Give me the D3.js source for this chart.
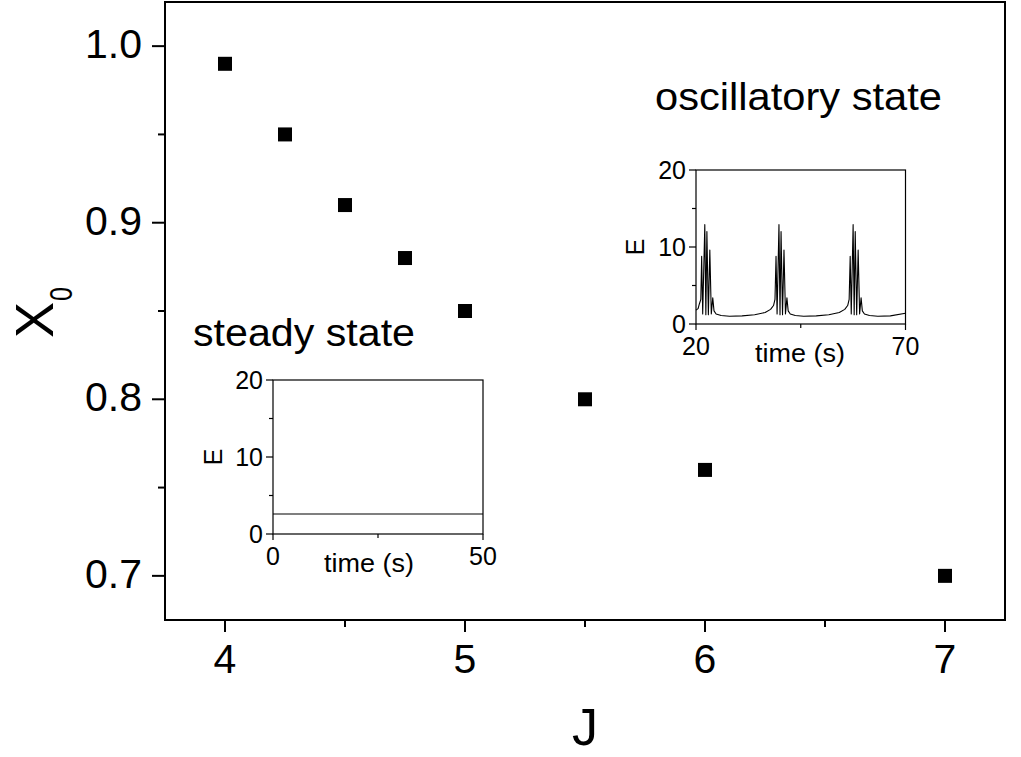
<!DOCTYPE html>
<html>
<head>
<meta charset="utf-8">
<script src="https://cdn.jsdelivr.net/npm/d3@7"></script>
<style>
  body { margin: 0; background: #fff; }
  svg { display: block; font-family: "Liberation Sans", Arial, sans-serif; }
</style>
</head>
<body>
<svg id="chart" width="1021" height="757"></svg>
<script>
// --- data ---
const jValues = [4, 4.25, 4.5, 4.75, 5, 5.5, 6, 7];
const x0Values = [0.99, 0.95, 0.91, 0.88, 0.85, 0.80, 0.76, 0.70];
const mainXTicks = [4, 5, 6, 7];
const mainXMinor = [4.5, 5.5, 6.5];
const mainYTicks = [0.7, 0.8, 0.9, 1.0];
const mainYMinor = [0.75, 0.85, 0.95];

// oscillatory inset: E(t)
const oscTime = [20.0, 20.5, 20.8, 21.15, 21.35, 21.6, 22.1, 22.35, 22.6, 22.95, 23.3, 23.65, 24.0, 24.3, 24.8, 26, 28, 31, 34, 36.5,
  37.8, 38.5, 38.85, 39.1, 39.35, 39.8, 40.05, 40.3, 40.65, 41.0, 41.35, 41.7, 42.0, 42.5, 43.7, 45.7, 48.7, 51.7, 54.2,
  55.5, 56.2, 56.55, 56.8, 57.05, 57.5, 57.75, 58.0, 58.35, 58.7, 59.05, 59.4, 59.7, 60.2, 61.4, 63.4, 66.4, 70];
const oscE = [1.8, 2.0, 2.6, 3.2, 8.8, 1.3, 12.9, 1.2, 12.0, 1.2, 9.6, 1.3, 3.4, 1.7, 1.3, 1.1, 1.0, 1.05, 1.2, 1.5,
  1.9, 2.4, 3.2, 8.8, 1.3, 12.9, 1.2, 12.0, 1.2, 9.6, 1.3, 3.4, 1.7, 1.3, 1.1, 1.0, 1.05, 1.2, 1.5,
  1.9, 2.4, 3.2, 8.8, 1.3, 12.9, 1.2, 12.0, 1.2, 9.6, 1.3, 3.4, 1.7, 1.3, 1.1, 1.0, 1.05, 1.4];

// steady inset
const steadyTime = [0, 50];
const steadyE = [2.6, 2.6];

const insetYTicks = [0, 10, 20];
const insetYMinor = [5, 15];

const svg = d3.select("#chart");

// --- main plot ---
const x = d3.scaleLinear().domain([3.75, 7.25]).range([165, 1005]);
const y = d3.scaleLinear().domain([0.675, 1.025]).range([620, 2]);

svg.append("rect")
  .attr("x", 165).attr("y", 2)
  .attr("width", 840).attr("height", 618)
  .attr("fill", "none").attr("stroke", "#000").attr("stroke-width", 2);

const xAxis = svg.append("g").attr("transform", "translate(0,620)");
xAxis.selectAll("line.major").data(mainXTicks).enter().append("line")
  .attr("x1", d => x(d)).attr("x2", d => x(d))
  .attr("y1", 0).attr("y2", 12)
  .attr("stroke", "#000").attr("stroke-width", 2);
xAxis.selectAll("line.minor").data(mainXMinor).enter().append("line")
  .attr("x1", d => x(d)).attr("x2", d => x(d))
  .attr("y1", 0).attr("y2", 7)
  .attr("stroke", "#000").attr("stroke-width", 2);
xAxis.selectAll("text").data(mainXTicks).enter().append("text")
  .attr("x", d => x(d)).attr("y", 53)
  .attr("text-anchor", "middle")
  .attr("font-size", 41)
  .text(d => d);

const yAxis = svg.append("g").attr("transform", "translate(165,0)");
yAxis.selectAll("line.major").data(mainYTicks).enter().append("line")
  .attr("y1", d => y(d)).attr("y2", d => y(d))
  .attr("x1", 0).attr("x2", -13)
  .attr("stroke", "#000").attr("stroke-width", 2);
yAxis.selectAll("line.minor").data(mainYMinor).enter().append("line")
  .attr("y1", d => y(d)).attr("y2", d => y(d))
  .attr("x1", 0).attr("x2", -7)
  .attr("stroke", "#000").attr("stroke-width", 2);
yAxis.selectAll("text").data(mainYTicks).enter().append("text")
  .attr("x", -23).attr("y", d => y(d) + 12)
  .attr("text-anchor", "end")
  .attr("font-size", 41)
  .text(d => d.toFixed(1));

// axis titles
svg.append("text")
  .attr("x", 585).attr("y", 745)
  .attr("text-anchor", "middle")
  .attr("font-size", 52)
  .text("J");

svg.append("text")
  .attr("transform", "translate(53,338) rotate(-90)")
  .attr("font-size", 54)
  .text("X");
svg.append("text")
  .attr("transform", "translate(72,301) rotate(-90)")
  .attr("font-size", 32)
  .attr("textLength", 14).attr("lengthAdjust", "spacingAndGlyphs")
  .text("0");

// squares
svg.selectAll("rect.pt").data(jValues).enter().append("rect")
  .attr("class", "pt")
  .attr("x", d => x(d) - 7)
  .attr("y", (d, i) => y(x0Values[i]) - 7)
  .attr("width", 14).attr("height", 14)
  .attr("fill", "#000");

// state labels
svg.append("text")
  .attr("x", 655).attr("y", 110)
  .attr("font-size", 38)
  .attr("textLength", 287).attr("lengthAdjust", "spacingAndGlyphs")
  .text("oscillatory state");
svg.append("text")
  .attr("x", 193).attr("y", 346)
  .attr("font-size", 38)
  .attr("textLength", 222).attr("lengthAdjust", "spacingAndGlyphs")
  .text("steady state");

// --- insets ---
function drawInset(opts) {
  const ix = d3.scaleLinear().domain(opts.xDomain).range([opts.left, opts.right]);
  const iy = d3.scaleLinear().domain([0, 20]).range([opts.bottom, opts.top]);
  const g = svg.append("g");

  g.append("rect")
    .attr("x", opts.left).attr("y", opts.top)
    .attr("width", opts.right - opts.left).attr("height", opts.bottom - opts.top)
    .attr("fill", "#fff").attr("stroke", "#000").attr("stroke-width", 1.2);

  // y ticks
  g.selectAll("line.ymaj").data(insetYTicks).enter().append("line")
    .attr("x1", opts.left).attr("x2", opts.left - 7)
    .attr("y1", d => iy(d)).attr("y2", d => iy(d))
    .attr("stroke", "#000").attr("stroke-width", 1.2);
  g.selectAll("line.ymin").data(insetYMinor).enter().append("line")
    .attr("x1", opts.left).attr("x2", opts.left - 4)
    .attr("y1", d => iy(d)).attr("y2", d => iy(d))
    .attr("stroke", "#000").attr("stroke-width", 1.2);
  g.selectAll("text.ylab").data(insetYTicks).enter().append("text")
    .attr("x", opts.left - 10).attr("y", d => iy(d) + 9)
    .attr("text-anchor", "end")
    .attr("font-size", 25)
    .text(d => d);

  // x ticks
  g.selectAll("line.xmaj").data(opts.xDomain).enter().append("line")
    .attr("x1", d => ix(d)).attr("x2", d => ix(d))
    .attr("y1", opts.bottom).attr("y2", opts.bottom + 6)
    .attr("stroke", "#000").attr("stroke-width", 1.2);
  g.append("line")
    .attr("x1", ix(opts.xMid)).attr("x2", ix(opts.xMid))
    .attr("y1", opts.bottom).attr("y2", opts.bottom + 4)
    .attr("stroke", "#000").attr("stroke-width", 1.2);
  g.selectAll("text.xlab").data(opts.xDomain).enter().append("text")
    .attr("x", d => ix(d)).attr("y", opts.bottom + 31)
    .attr("text-anchor", "middle")
    .attr("font-size", 25)
    .text(d => d);

  g.append("text")
    .attr("x", opts.timeX).attr("y", opts.bottom + 38)
    .attr("text-anchor", "middle")
    .attr("font-size", 25)
    .attr("textLength", 90).attr("lengthAdjust", "spacingAndGlyphs")
    .text("time (s)");

  g.append("text")
    .attr("transform", `translate(${opts.eX},${iy(10)}) rotate(-90)`)
    .attr("text-anchor", "middle")
    .attr("font-size", 25)
    .text("E");

  const line = d3.line()
    .x((d, i) => ix(opts.t[i]))
    .y((d, i) => iy(opts.e[i]));
  g.append("path")
    .datum(opts.t)
    .attr("d", line)
    .attr("fill", "none")
    .attr("stroke", "#000")
    .attr("stroke-width", 1.1)
    .attr("stroke-linejoin", "round");
}

drawInset({
  left: 696, right: 905.5, top: 170, bottom: 324,
  xDomain: [20, 70], xMid: 45,
  t: oscTime, e: oscE, timeX: 800, eX: 644
});

drawInset({
  left: 273, right: 483, top: 380, bottom: 534,
  xDomain: [0, 50], xMid: 25,
  t: steadyTime, e: steadyE, timeX: 369, eX: 222
});
</script>
</body>
</html>
